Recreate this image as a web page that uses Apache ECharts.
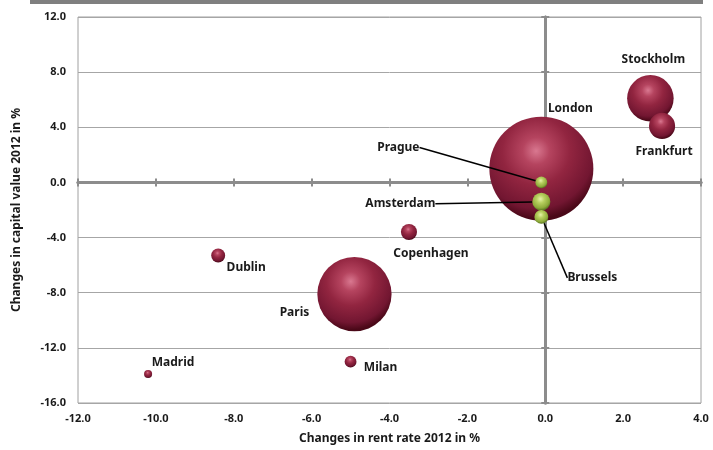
<!DOCTYPE html>
<html>
<head>
<meta charset="utf-8">
<script src="https://cdn.jsdelivr.net/npm/echarts@6/dist/echarts.min.js"></script>
<style>
  html, body { margin: 0; padding: 0; background: #ffffff; }
  #chart { width: 713px; height: 450px; }
</style>
</head>
<body>
<div id="chart"></div>
<script>
// data
const cities = ['London', 'Paris', 'Stockholm', 'Frankfurt', 'Copenhagen', 'Dublin', 'Milan', 'Madrid', 'Prague', 'Amsterdam', 'Brussels']
const rentChange = [-0.1, -4.9, 2.7, 3.0, -3.5, -8.4, -5.0, -10.2, -0.1, -0.1, -0.1]
const capitalChange = [1.0, -8.1, 6.1, 4.1, -3.6, -5.3, -13.0, -13.9, 0.0, -1.4, -2.5]
const marketSize = [100, 51, 20, 6.3, 2.4, 1.8, 1.3, 0.6, 1.3, 3.0, 1.8]
const greenCities = ['Prague', 'Amsterdam', 'Brussels']
const xTicks = { min: -12, max: 4, step: 2 }
const yTicks = { min: -16, max: 12, step: 4 }

// label offsets from bubble centre (px)
const labelOffsets = {
  London: [29, -60],
  Paris: [-60, 18],
  Stockholm: [3, -39],
  Frankfurt: [2, 26],
  Copenhagen: [22, 22],
  Dublin: [28, 12],
  Milan: [30, 6],
  Madrid: [25, -11],
  Prague: [-143, -35],
  Amsterdam: [-141, 2],
  Brussels: [51, 61]
}

const redFill = {
  type: 'radial', x: 0.45, y: 0.33, r: 0.65,
  colorStops: [
    { offset: 0, color: '#d97890' },
    { offset: 0.2, color: '#b5445f' },
    { offset: 0.5, color: '#922540' },
    { offset: 0.85, color: '#721631' },
    { offset: 1, color: '#4a0818' }
  ]
}
const greenFill = {
  type: 'radial', x: 0.45, y: 0.35, r: 0.62,
  colorStops: [
    { offset: 0, color: '#e6f2a8' },
    { offset: 0.35, color: '#b8d060' },
    { offset: 0.8, color: '#8eab3a' },
    { offset: 1, color: '#5f7b22' }
  ]
}

function buildSeries (isGreen) {
  const names = cities.filter(c => greenCities.includes(c) === isGreen)
  const data = names.map(c => {
    const i = cities.indexOf(c)
    return [rentChange[i], capitalChange[i], marketSize[i], c]
  })
  return {
    type: 'scatter',
    data: data,
    symbolSize: v => Math.sqrt(v[2]) * 10.4,
    itemStyle: { color: isGreen ? greenFill : redFill, opacity: 1 },
    label: {
      show: true,
      position: 'inside',
      formatter: p => p.data[3],
      color: '#1a1a1a',
      fontFamily: 'Noto Sans',
      fontWeight: 'bold',
      fontSize: 12
    },
    labelLayout: function (p) {
      const off = labelOffsets[names[p.dataIndex]]
      return { dx: off[0], dy: off[1] }
    },
    labelLine: {
      show: isGreen,
      lineStyle: { color: '#000', width: 1.5 }
    },
    emphasis: { disabled: true },
    z: isGreen ? 3 : 2
  }
}

const axisFont = { color: '#1a1a1a', fontFamily: 'Noto Sans', fontWeight: 'bold', fontSize: 11 }

// extra axes that only draw the thick zero lines with crossing ticks
function zeroAxis (range, inside) {
  return {
    type: 'value',
    min: range.min,
    max: range.max,
    interval: range.step,
    axisLine: { show: true, onZero: true, onZeroAxisIndex: 0, lineStyle: { color: '#8c8c8c', width: 3 } },
    axisTick: { show: true, inside: inside, length: 4, lineStyle: { color: '#8c8c8c', width: 2 } },
    axisLabel: { show: false },
    splitLine: { show: false }
  }
}

const myChart = echarts.init(document.getElementById('chart'))
const option = {
  animation: false,
  grid: { left: 78, right: 12, top: 17, bottom: 45, show: true, borderColor: '#a0a0a0', borderWidth: 1 },
  graphic: [
    { type: 'rect', left: 30, top: 0, shape: { width: 673, height: 4 }, style: { fill: '#7f7f7f' } }
  ],
  xAxis: [
    {
      type: 'value',
      min: xTicks.min,
      max: xTicks.max,
      interval: xTicks.step,
      position: 'bottom',
      axisLine: { show: false, onZero: false },
      axisTick: { show: false },
      splitLine: { show: false },
      axisLabel: Object.assign({ margin: 10, formatter: v => v.toFixed(1) }, axisFont),
      name: 'Changes in rent rate 2012 in %',
      nameLocation: 'middle',
      nameGap: 30,
      nameTextStyle: Object.assign({}, axisFont, { fontSize: 12 })
    },
    zeroAxis(xTicks, false),
    zeroAxis(xTicks, true)
  ],
  yAxis: [
    {
      type: 'value',
      min: yTicks.min,
      max: yTicks.max,
      interval: yTicks.step,
      axisLine: { show: false, onZero: false },
      axisTick: { show: false },
      splitLine: { show: true, lineStyle: { color: '#a6a6a6', width: 1 } },
      axisLabel: Object.assign({ margin: 12, formatter: v => v.toFixed(1) }, axisFont),
      name: 'Changes in capital value 2012 in %',
      nameLocation: 'middle',
      nameGap: 55,
      nameTextStyle: Object.assign({}, axisFont, { fontSize: 12 })
    },
    zeroAxis(yTicks, false),
    zeroAxis(yTicks, true)
  ],
  series: [buildSeries(false), buildSeries(true)]
}
myChart.setOption(option)
</script>
</body>
</html>
